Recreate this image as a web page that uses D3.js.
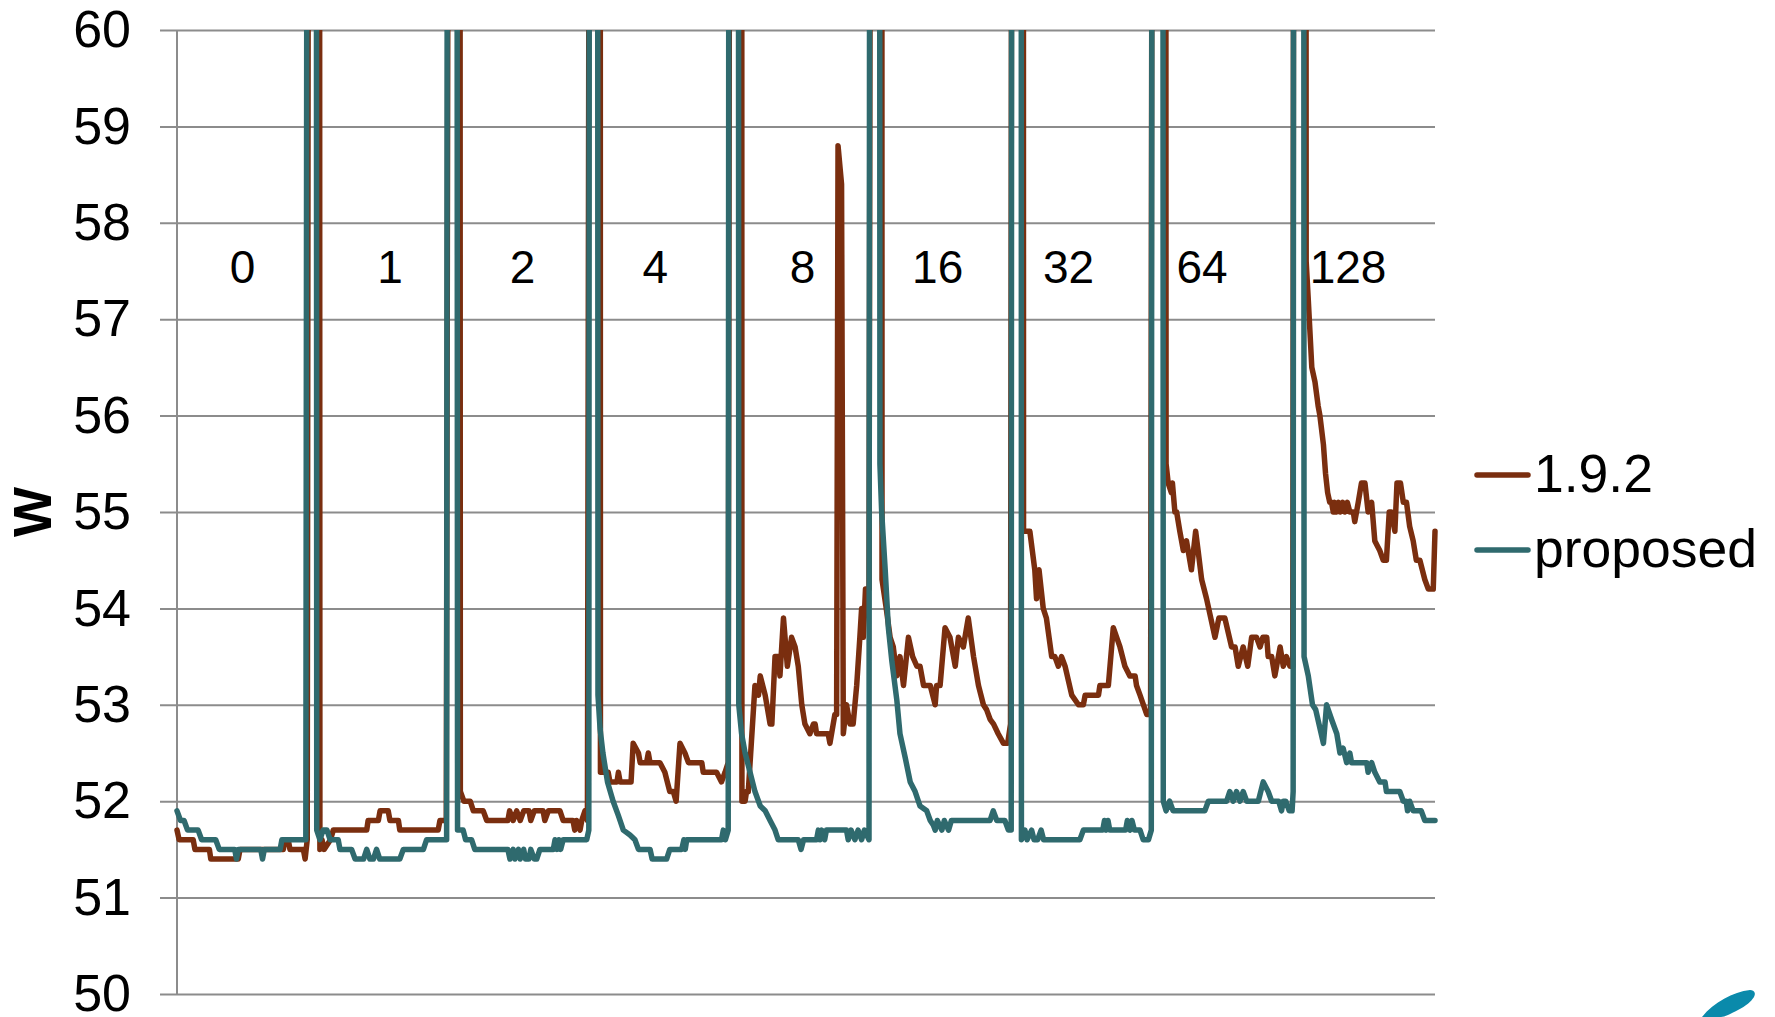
<!DOCTYPE html>
<html>
<head>
<meta charset="utf-8">
<script src="https://cdn.jsdelivr.net/npm/d3@7"></script>
<style>
  html, body { margin: 0; padding: 0; background: #ffffff; }
  svg { display: block; }
  text { font-family: "Liberation Sans", Arial, sans-serif; fill: #000; }
</style>
</head>
<body>
<svg id="chart" width="1775" height="1017"></svg>
<script>
// ---------- DATA (t = sample time, value = watts) ----------
const seriesNames = ["1.9.2", "proposed"];
const segmentLabels = ["0", "1", "2", "4", "8", "16", "32", "64", "128"];
const segmentLabelT = [18.6, 60.5, 98.2, 135.9, 177.7, 216.1, 253.3, 291.2, 332.7];
const yTicks = [50, 51, 52, 53, 54, 55, 56, 57, 58, 59, 60];

// 1.9.2 series, one array per run
const oldSeg0 = [[0,51.7],[0.6,51.6],[4.6,51.6],[5.1,51.5],[9.2,51.5],[9.6,51.4],[17.4,51.4],[17.9,51.5],[30.2,51.5],[30.7,51.6],[31.6,51.6],[32.1,51.5],[35.9,51.5],[36.4,51.4],[37.0,51.6]];
const oldSeg1 = [[40.6,51.5],[41.2,51.6],[41.8,51.5],[43.6,51.6],[44.4,51.7],[53.9,51.7],[54.3,51.8],[57.2,51.8],[57.7,51.9],[60,51.9],[60.5,51.8],[62.9,51.8],[63.3,51.7],[74.2,51.7],[74.7,51.8],[76.5,51.8]];
const oldSeg2 = [[80.5,52.1],[81.5,52.0],[83.3,52.0],[84.2,51.9],[87,51.9],[88,51.8],[94,51.8],[94.5,51.9],[95.5,51.8],[96.5,51.9],[97.5,51.8],[98.5,51.9],[100,51.9],[100.5,51.8],[101.5,51.9],[104,51.9],[104.5,51.8],[105.5,51.9],[108.8,51.9],[109.7,51.8],[112.5,51.8],[113,51.7],[113.5,51.8],[114.5,51.7],[115,51.8],[115.9,51.9],[116.6,51.8]];
const oldSeg4 = [[120.3,52.3],[122.5,52.3],[123,52.2],[125,52.2],[125.4,52.3],[125.9,52.2],[129,52.2],[129.6,52.6],[131.1,52.5],[131.6,52.4],[133.4,52.4],[133.9,52.5],[134.4,52.4],[137.2,52.4],[138.6,52.3],[140,52.1],[141,52.1],[141.8,52.0],[142.9,52.6],[144.3,52.5],[145.3,52.4],[149.1,52.4],[149.5,52.3],[153.3,52.3],[154.7,52.2],[155.7,52.3],[156.6,52.4]];
const oldSeg8 = [[160.5,52.0],[161.4,52.0],[161.8,52.1],[162.3,52.1],[164.2,53.2],[165.2,53.1],[165.7,53.3],[167.1,53.1],[168.5,52.8],[169,52.8],[169.9,53.5],[170.8,53.5],[171.3,53.3],[172.3,53.9],[173.4,53.4],[174.6,53.7],[175.6,53.6],[176.5,53.4],[177.5,53.0],[178.4,52.8],[179.8,52.7],[180.8,52.8],[181.3,52.8],[181.7,52.7],[185,52.7],[185.5,52.6],[186.9,52.9],[187.4,52.9],[187.8,58.8],[188.8,58.4],[189.3,52.7],[190.2,53.0],[191.2,52.8],[192.1,52.8],[193.1,53.2],[194,53.7],[194.5,54.0],[195,53.7],[195.6,54.2],[196.6,54.2]];
const oldSeg16 = [[200.3,54.3],[201.5,54.0],[202.6,53.7],[203.5,53.6],[204.5,53.3],[205.4,53.5],[206.4,53.2],[207.8,53.7],[209,53.5],[210.2,53.4],[211.1,53.4],[212.1,53.2],[214,53.2],[215.4,53.0],[215.8,53.2],[216.8,53.2],[218.2,53.8],[219.6,53.7],[221.1,53.4],[222,53.7],[223.4,53.6],[224.8,53.9],[226.3,53.5],[227.7,53.2],[229.1,53.0],[230,52.95],[231,52.85],[232,52.8],[233.3,52.7],[234.8,52.6],[236,52.6],[236.8,52.8]];
const oldSeg32 = [[240.5,54.8],[242.3,54.8],[243.7,54.4],[244.2,54.1],[244.9,54.4],[246.1,54.0],[247,53.9],[248.5,53.5],[249.4,53.5],[250.4,53.4],[251.3,53.5],[252.3,53.4],[254.2,53.1],[256.1,53.0],[257.5,53.0],[258,53.1],[261.8,53.1],[262.2,53.2],[264.6,53.2],[266,53.8],[267.9,53.6],[269.3,53.4],[270.7,53.3],[272.2,53.3],[272.6,53.2],[273.6,53.1],[275.5,52.9],[276.6,52.9]];
const oldSeg64 = [[281,55.5],[281.6,55.3],[282.5,55.2],[282.8,55.3],[283.5,55.0],[284,55.0],[284.9,54.8],[285.9,54.6],[286.8,54.7],[288.2,54.4],[289.4,54.8],[290.1,54.6],[291.1,54.3],[292.5,54.1],[294.9,53.7],[296,53.9],[297.7,53.9],[299.6,53.6],[300.6,53.6],[301.5,53.4],[302.9,53.6],[304.2,53.4],[305.3,53.7],[306.7,53.7],[307.7,53.6],[308.5,53.7],[309.6,53.7],[310,53.5],[311,53.5],[311.9,53.3],[313.4,53.6],[314.3,53.4],[315.2,53.5],[316.2,53.4],[317,53.4]];
const oldSeg128 = [[320.8,57.6],[321.4,57.2],[322.4,56.5],[323.3,56.35],[324.2,56.1],[324.7,56.0],[325.7,55.7],[326.3,55.4],[326.9,55.2],[327.5,55.1],[328,55.1],[328.5,55.0],[328.9,55.1],[329.4,55.0],[330,55.1],[330.5,55.0],[331.2,55.1],[331.8,55.0],[332.5,55.1],[333.2,55.0],[334.2,55.0],[334.6,54.9],[335.6,55.1],[336.5,55.3],[337.5,55.3],[338.4,55.0],[339.4,55.1],[340.3,54.7],[341.7,54.6],[342.7,54.5],[343.6,54.5],[344.4,55.0],[345,55.0],[346,54.8],[346.6,55.3],[347.6,55.3],[348.4,55.1],[349.3,55.1],[350.2,54.85],[351.2,54.7],[352.1,54.5],[353.1,54.5],[354.5,54.3],[355.5,54.2],[356.9,54.2],[357.4,54.8]];
// load bursts between runs (off-scale peaks)
const oldSpikes = [[37.7,75],[40.4,75],[77.7,75],[80.3,75],[117.7,75],[120.2,75],[157.5,75],[160.4,75],[197.6,75],[200.2,75],[237.6,75],[240.4,75],[277.6,75],[280.8,75],[317.6,75],[320.6,75]];

// proposed series, one array per run
const newSeg0 = [[0,51.9],[1,51.8],[2,51.8],[3,51.7],[6,51.7],[7,51.6],[11,51.6],[12,51.5],[16.4,51.5],[16.9,51.4],[17.4,51.5],[23.8,51.5],[24.3,51.4],[24.8,51.5],[29.3,51.5],[29.8,51.6],[36.6,51.6]];
const newSeg1 = [[39.7,51.7],[40.6,51.6],[41.5,51.7],[42.6,51.7],[43.5,51.6],[45.8,51.6],[46.3,51.5],[49.6,51.5],[50.6,51.4],[53,51.4],[53.9,51.5],[54.8,51.4],[55.8,51.4],[56.7,51.5],[57.6,51.4],[63.3,51.4],[64.3,51.5],[70,51.5],[70.9,51.6],[76.6,51.6]];
const newSeg2 = [[79.7,51.7],[81.3,51.7],[82,51.6],[83.7,51.6],[84.6,51.5],[94,51.5],[94.6,51.4],[95.5,51.5],[96,51.4],[97,51.5],[97.5,51.4],[98.5,51.5],[99,51.4],[100,51.4],[100.5,51.5],[101.5,51.4],[102.2,51.4],[103.1,51.5],[106.9,51.5],[107.4,51.6],[108,51.5],[108.5,51.6],[109,51.5],[109.7,51.6],[116.4,51.6],[117,51.7]];
const newSeg4 = [[119.6,53.1],[120.2,52.75],[121,52.5],[122.3,52.2],[123.9,52.0],[125.4,51.85],[126.8,51.7],[128.7,51.65],[130.1,51.6],[131.1,51.5],[134.4,51.5],[135,51.4],[139.1,51.4],[140,51.5],[143.4,51.5],[144,51.6],[144.4,51.5],[144.8,51.6],[154.7,51.6],[155.2,51.7],[155.8,51.6],[156.6,51.7]];
const newSeg8 = [[159.6,53.0],[160.4,52.7],[161.4,52.5],[162.8,52.3],[164.2,52.1],[165.7,51.95],[167.1,51.9],[168.5,51.8],[169.9,51.7],[170.8,51.6],[176.5,51.6],[177.3,51.5],[178,51.6],[181.7,51.6],[182.2,51.7],[182.7,51.6],[183.2,51.7],[184,51.6],[184.5,51.7],[190.2,51.7],[190.7,51.6],[191.5,51.7],[192.6,51.6],[193.5,51.7],[194.5,51.6],[195.3,51.7],[196.6,51.6]];
const newSeg16 = [[199.7,55.5],[200.2,55.0],[201.2,54.4],[202.1,53.8],[203.1,53.45],[204.5,53.05],[205.4,52.7],[206.9,52.45],[208.3,52.2],[209.7,52.1],[211.1,51.95],[213,51.9],[214,51.8],[214.9,51.75],[215.4,51.7],[216,51.8],[217.3,51.7],[218,51.8],[219.2,51.7],[220,51.8],[231,51.8],[231.9,51.9],[232.9,51.8],[235.2,51.8],[236.2,51.7],[237.0,51.7]];
const newSeg32 = [[239.9,51.6],[240.9,51.7],[241.5,51.6],[242.8,51.7],[243.5,51.6],[244.5,51.6],[245.5,51.7],[246.2,51.6],[256.5,51.6],[257.5,51.7],[263,51.7],[263.5,51.8],[264,51.7],[264.5,51.8],[265,51.7],[269.5,51.7],[270,51.8],[270.8,51.7],[271.3,51.8],[272,51.7],[273.6,51.7],[274.5,51.6],[276,51.6],[276.8,51.7]];
const newSeg64 = [[280.2,52.0],[281,51.9],[282,52.0],[283,51.9],[292,51.9],[293,52.0],[298.2,52.0],[299.1,52.1],[300.1,52.0],[301,52.1],[302,52.0],[302.9,52.1],[303.9,52.0],[307.2,52.0],[308.6,52.2],[310,52.1],[311,52.0],[313,52.0],[313.8,51.9],[314.3,52.0],[315,52.0],[316,51.9],[316.8,51.9],[317.1,52.1]];
const newSeg128 = [[320.2,53.5],[321.4,53.3],[322.6,53.0],[323.5,52.95],[325.7,52.6],[326.6,53.0],[328,52.85],[329.5,52.7],[330.4,52.5],[331.3,52.55],[332.3,52.4],[333.2,52.5],[333.7,52.4],[338,52.4],[338.4,52.3],[339.4,52.4],[340.3,52.3],[341.7,52.2],[343.2,52.2],[343.6,52.1],[347.4,52.1],[348.4,52.0],[349.2,52.0],[349.6,51.9],[350.2,52.0],[351.2,51.9],[353.5,51.9],[354.5,51.8],[357.4,51.8]];
const newSpikes = [[37.3,75],[39.5,75],[77.0,75],[79.4,75],[117.3,75],[119.4,75],[157.0,75],[159.4,75],[197.0,75],[199.5,75],[237.3,75],[239.8,75],[277.2,75],[280.0,75],[317.4,75],[320.0,75]];

// ---------- BUILD ----------
const oldSeries = [].concat(oldSeg0, oldSeg1, oldSeg2, oldSeg4, oldSeg8, oldSeg16, oldSeg32, oldSeg64, oldSeg128, oldSpikes).sort((a, b) => a[0] - b[0]);
const newSeries = [].concat(newSeg0, newSeg1, newSeg2, newSeg4, newSeg8, newSeg16, newSeg32, newSeg64, newSeg128, newSpikes).sort((a, b) => a[0] - b[0]);

const colors = { old: "#7a2e0f", nw: "#2f6a6e" };
const svg = d3.select("#chart");
const plotLeft = 177, plotRight = 1435, plotTop = 30, plotBottom = 994;

const x = d3.scaleLinear().domain([0, 357.4]).range([plotLeft, plotRight]);
const y = d3.scaleLinear().domain([50, 60]).range([plotBottom, plotTop]);

// gridlines + tick labels
const yAxis = d3.axisLeft(y).tickValues(yTicks).tickFormat(d3.format("d"))
  .tickSize(-(plotRight - 160)).tickPadding(29);
const gAxis = svg.append("g").attr("transform", "translate(160,0)").call(yAxis);
gAxis.select(".domain").remove();
gAxis.selectAll(".tick line").attr("stroke", "#8c8c8c").attr("stroke-width", 2);
gAxis.selectAll(".tick text")
  .attr("font-size", 52).attr("fill", "#000")
  .attr("font-family", '"Liberation Sans", Arial, sans-serif');

// vertical axis line
svg.append("line").attr("x1", plotLeft).attr("x2", plotLeft)
  .attr("y1", plotTop).attr("y2", plotBottom)
  .attr("stroke", "#8c8c8c").attr("stroke-width", 2);

// y-axis title
svg.append("text").attr("transform", "translate(51,512) rotate(-90)")
  .attr("text-anchor", "middle").attr("font-size", 53).attr("font-weight", "bold").text("W");

// clip
svg.append("defs").append("clipPath").attr("id", "clip")
  .append("rect").attr("x", 0).attr("y", plotTop).attr("width", 1775).attr("height", plotBottom - plotTop);

const line = d3.line().x(d => x(d[0])).y(d => y(d[1]));
const gLines = svg.append("g").attr("clip-path", "url(#clip)");
gLines.append("path").datum(oldSeries).attr("d", line)
  .attr("fill", "none").attr("stroke", colors.old).attr("stroke-width", 5.5)
  .attr("stroke-linejoin", "round").attr("stroke-linecap", "round");
gLines.append("path").datum(newSeries).attr("d", line)
  .attr("fill", "none").attr("stroke", colors.nw).attr("stroke-width", 5.5)
  .attr("stroke-linejoin", "round").attr("stroke-linecap", "round");

// run labels
svg.append("g").selectAll("text").data(segmentLabels).join("text")
  .attr("x", (d, i) => x(segmentLabelT[i])).attr("y", 283)
  .attr("text-anchor", "middle").attr("font-size", 46).text(d => d);

// legend
const legend = svg.append("g");
[[seriesNames[0], colors.old, 475, 492], [seriesNames[1], colors.nw, 550, 567]].forEach(([name, c, ly, by]) => {
  legend.append("line").attr("x1", 1477).attr("x2", 1528).attr("y1", ly).attr("y2", ly)
    .attr("stroke", c).attr("stroke-width", 5.5).attr("stroke-linecap", "round");
  legend.append("text").attr("x", 1534).attr("y", by).attr("font-size", 53.5).text(name);
});

// partial logo swoosh at bottom right
svg.append("path")
  .attr("d", "M1702,1017 C1714,1002 1733,992 1750,990 C1760,991 1754,1002 1738,1010 C1730,1014 1725,1017 1721,1017 Z")
  .attr("fill", "#0a8aab");
</script>
</body>
</html>
